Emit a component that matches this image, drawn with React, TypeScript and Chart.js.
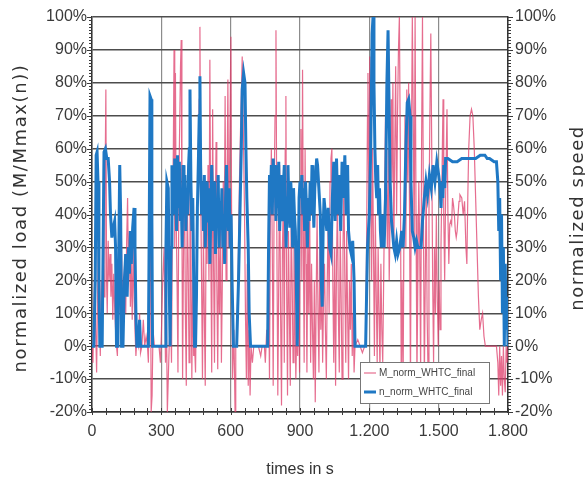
import React, { useEffect, useRef } from 'react';
import { Chart, registerables } from 'chart.js';

Chart.register(...registerables);

// time in s, normalized speed in %
const speedPoints: [number, number][] = [
  [0,0],[8,0],[14,20],[18,58],[22,59],[26,50],[30,20],[34,0],[44,0],[48,30],[52,59],[58,60],[64,57],[70,57],[76,50],[80,40],[86,33],[92,36],[98,38],[102,30],[106,0],[112,0],[116,30],[120,55],[124,40],[128,0],[134,0],[140,20],[146,28],[152,15],[158,30],[162,22],[166,35],[170,25],[176,36],[182,42],[186,30],[190,10],[194,0],[200,0],[206,8],[210,0],[244,0],[248,40],[251,76],[256,75],[259,40],[262,0],[316,0],[320,30],[324,50],[330,48],[334,20],[338,0],
  [342,30],[346,55],[350,50],[354,40],[358,57],[362,45],[366,35],[370,58],[374,42],[378,56],[382,38],[386,47],[390,30],[394,55],[398,45],[402,52],[406,35],[410,48],[414,40],[418,55],[421,60],[424,78],[428,50],[432,35],[436,45],[440,20],[444,0],[448,0],[452,15],[456,42],[460,55],[464,70],[467,82],[470,55],[474,40],[478,50],[482,35],[486,52],[490,30],[494,45],[498,50],[502,38],[506,48],[510,25],[514,40],[518,55],[522,42],[526,35],[530,50],[534,28],[538,45],[542,38],[546,52],[550,30],[554,44],[558,36],[562,48],[566,30],[570,40],[574,25],[578,45],[582,55],[586,42],[590,35],[594,48],[598,30],[602,40],[606,20],[612,0],[626,0],[634,20],[640,40],[646,60],[650,78],[656,83],[662,80],[666,60],[670,45],[676,30],[680,10],[686,0],[760,0],
  [764,30],[768,52],[772,45],[776,55],[780,40],[784,57],[788,48],[792,55],[796,38],[800,50],[804,42],[808,56],[812,35],[816,45],[820,52],[824,38],[828,48],[832,55],[836,40],[840,30],[844,45],[848,55],[852,42],[856,36],[860,50],[864,44],[868,30],[872,48],[876,40],[880,35],[884,20],[888,0],[892,20],[896,45],[900,50],[904,45],[908,52],[912,40],[916,48],[920,35],[924,50],[928,42],[932,30],[936,45],[940,38],[944,50],[948,40],[952,55],[956,45],[960,36],[964,48],[968,52],[972,57],[976,55],[980,50],[984,45],[988,40],[992,20],[996,12],[1000,35],[1004,45],[1010,40],[1016,35],[1022,42],[1028,30],[1034,28],[1040,45],[1046,56],[1052,38],[1058,57],[1064,40],[1070,52],[1076,35],[1082,56],[1088,45],[1094,58],[1100,40],[1106,55],[1110,35],[1116,30],[1122,28],[1128,32],[1134,20],[1138,0],[1184,0],
  [1192,30],[1200,40],[1206,60],[1212,95],[1216,100],[1220,80],[1224,60],[1228,50],[1232,45],[1236,55],[1240,40],[1244,48],[1248,35],[1252,30],[1256,40],[1260,32],[1264,30],[1270,45],[1276,80],[1281,96],[1286,70],[1290,50],[1296,38],[1300,35],[1306,30],[1312,28],[1318,32],[1324,28],[1332,30],[1340,35],[1346,30],[1352,40],[1358,60],[1364,74],[1370,75],[1376,70],[1380,50],[1386,35],[1392,33],[1398,30],[1404,32],[1410,30],[1416,30],[1424,30],[1430,38],[1438,45],[1445,50],[1452,46],[1460,52],[1468,48],[1476,55],[1484,50],[1492,56],[1500,52],[1506,48],[1510,42],[1514,50],[1518,45],[1522,55],[1526,48],[1530,57],[1540,57],[1560,56],[1580,56],[1600,57],[1620,57],[1640,57],[1660,57],[1680,58],[1700,58],[1710,57],[1720,57],[1740,56],[1750,56],[1756,50],[1760,35],[1764,45],[1768,20],[1772,40],[1776,10],[1780,30],[1784,0],[1788,25],[1792,5],[1796,15],[1800,0]
];

// time in s, normalized load in %
const loadPoints: [number, number][] = [
  [0,0],[4,-5],[8,10],[12,25],[16,5],[20,-8],[24,15],[28,30],[32,10],[36,-3],[40,20],[44,8],[48,30],[52,15],[56,45],[60,78],[63,20],[66,10],[70,32],[74,20],[78,28],[82,15],[86,25],[90,8],[94,22],[98,12],[102,5],[106,0],[110,-3],[114,25],[118,30],[122,10],[126,40],[130,20],[134,5],[138,15],[142,28],[146,10],[150,32],[154,45],[158,20],[162,35],[166,12],[170,25],[174,8],[178,30],[182,15],[186,5],[190,-3],[194,2],[200,0],[206,10],[210,-2],[216,0],[222,8],[228,0],[234,3],[240,0],[244,-5],[248,20],[252,50],[256,-20],[260,-15],[264,5],[270,0],[290,0],[296,-5],[300,3],[306,20],[312,30],[318,-5],[322,10],[326,-20],[330,-10],[334,0],[338,5],
  [340,10],[344,-5],[348,40],[352,60],[355,90],[358,30],[361,83],[364,40],[368,20],[372,-8],[376,50],[380,70],[383,85],[386,93],[389,40],[392,-10],[396,30],[400,55],[404,10],[408,-12],[412,45],[416,25],[420,-5],[424,60],[428,30],[432,-10],[436,20],[440,-3],[444,0],[448,-8],[452,15],[456,40],[460,60],[464,75],[467,97],[470,50],[474,20],[478,-10],[482,35],[486,10],[490,-12],[494,40],[498,25],[502,55],[506,20],[510,87],[514,30],[518,-8],[522,72],[526,25],[530,-5],[534,45],[537,62],[540,20],[544,-7],[548,30],[552,10],[556,40],[560,-5],[564,20],[568,50],[572,30],[576,76],[580,20],[584,45],[588,81],[592,30],[596,60],[601,94],[604,40],[608,-10],[614,5],[619,-20],[622,0],
  [626,0],[632,20],[638,50],[644,70],[650,88],[656,60],[660,40],[664,10],[668,-10],[672,25],[676,-12],[680,5],[684,-15],[688,0],[694,-5],[700,0],[720,0],[730,-3],[736,0],[746,0],[750,-5],[756,5],[760,0],
  [764,20],[768,-10],[772,40],[776,60],[780,30],[784,-12],[788,45],[792,70],[796,96],[800,30],[804,-15],[808,20],[812,55],[816,10],[820,-18],[824,30],[828,45],[832,-5],[836,60],[839,76],[842,20],[846,-15],[850,35],[854,10],[858,-12],[862,40],[866,20],[870,-5],[874,30],[878,10],[882,-10],[886,5],[890,-3],[894,20],[898,-8],
  [900,30],[904,66],[908,20],[911,84],[914,40],[918,-5],[922,60],[926,25],[930,-8],[934,35],[938,10],[942,40],[946,-5],[950,25],[954,5],[958,-10],[962,20],[966,-17],[970,15],[974,40],[978,10],[982,-8],[986,30],[990,5],[994,20],[998,-5],[1002,15],[1006,25],[1010,5],[1014,-10],[1018,20],[1022,40],[1026,10],[1030,50],[1034,57],[1038,60],[1042,20],[1046,-5],[1050,30],[1054,-12],[1058,25],[1062,45],[1066,10],[1070,-8],[1074,35],[1078,15],[1082,-10],[1086,30],[1090,50],[1094,20],[1098,-5],[1102,35],[1106,10],[1110,-10],[1114,20],[1118,5],[1122,25],[1126,-3],[1130,10],[1134,-8],[1138,0],[1150,2],[1160,0],[1170,-2],[1180,0],
  [1184,0],[1188,30],[1192,70],[1194,83],[1198,40],[1202,88],[1206,50],[1210,20],[1214,60],[1218,30],[1222,-3],[1226,40],[1230,15],[1234,-5],[1238,30],[1242,10],[1246,-8],[1250,25],[1254,5],[1258,-5],[1262,20],[1266,45],[1270,70],[1274,50],[1278,30],[1282,60],[1286,20],[1290,40],[1294,75],[1298,50],[1302,80],[1306,30],[1310,60],[1314,85],[1318,40],[1322,70],[1326,90],[1330,100],[1334,60],[1338,-10],[1342,20],[1346,-15],[1350,40],[1354,70],[1358,30],[1362,78],[1366,50],[1370,80],[1374,40],[1378,-13],[1382,60],[1386,100],[1390,70],[1394,30],[1398,100],[1402,40],[1406,-10],[1410,20],[1414,50],[1418,30],[1422,-8],[1426,60],[1430,100],[1434,40],[1438,-10],[1442,20],[1446,50],[1450,10],[1454,-8],[1458,40],[1462,70],[1466,95],[1470,60],[1474,20],[1478,-5],[1482,30],[1486,10],[1490,40],[1494,15],[1498,0],[1502,20],[1506,5],
  [1510,30],[1516,60],[1519,75],[1522,40],[1526,20],[1530,45],[1536,72],[1540,40],[1544,25],[1548,37],[1552,38],[1556,37],[1560,45],[1564,43],[1568,40],[1572,35],[1576,33],[1580,35],[1584,40],[1588,44],[1592,46],[1600,45],[1606,40],[1612,44],[1618,30],[1622,25],[1626,45],[1630,60],[1636,70],[1642,72],[1648,70],[1654,60],[1660,45],[1666,30],[1672,15],[1678,5],[1684,8],[1690,10],[1696,3],[1702,0],[1720,0],[1740,0],[1750,0],[1756,-5],[1760,-15],[1764,0],[1768,-12],[1772,-3],[1776,-15],[1780,0],[1784,-10],[1788,-14],[1792,0],[1796,-5],[1800,0]
];

const seriesLabels = ['M_norm_WHTC_final', 'n_norm_WHTC_final'];
const leftTitle = 'normalized load (M/Mmax(n))';
const rightTitle = 'normalized speed';
const bottomTitle = 'times in s';

const LOAD_COLOR = 'rgba(221, 60, 105, 0.75)';
const SPEED_COLOR = '#1f78c4';

const fmtTime = (v: number) =>
  v >= 1000 ? `${Math.floor(v / 1000)}.${String(v % 1000).padStart(3, '0')}` : `${v}`;

const decorations = {
  id: 'decorations',
  afterDraw(chart: any) {
    const { ctx, chartArea, scales } = chart;
    const { left, right, bottom } = chartArea;
    const y = scales.y;
    const x = scales.x;
    ctx.save();
    // minor ticks
    ctx.strokeStyle = '#3a3a3a';
    ctx.lineWidth = 1;
    ctx.beginPath();
    for (let v = -20; v <= 100; v += 1) {
      const py = Math.round(y.getPixelForValue(v)) + 0.5;
      const len = v % 10 === 0 ? 5 : 3;
      ctx.moveTo(left - len, py); ctx.lineTo(left, py);
      ctx.moveTo(right, py); ctx.lineTo(right + len, py);
    }
    for (let t = 0; t <= 1800; t += 60) {
      const px = Math.round(x.getPixelForValue(t)) + 0.5;
      ctx.moveTo(px, bottom - 4); ctx.lineTo(px, bottom + 3);
    }
    ctx.stroke();

    // axis titles
    ctx.fillStyle = '#333';
    ctx.textAlign = 'center';
    ctx.textBaseline = 'alphabetic';
    ctx.font = '18px "DejaVu Sans"';
    (ctx as any).letterSpacing = '1.6px';
    ctx.save();
    ctx.translate(26, 218);
    ctx.rotate(-Math.PI / 2);
    ctx.fillText(leftTitle, 0, 0);
    ctx.restore();
    ctx.save();
    ctx.translate(583, 218);
    ctx.rotate(-Math.PI / 2);
    ctx.fillText(rightTitle, 0, 0);
    ctx.restore();
    (ctx as any).letterSpacing = '0px';
    ctx.font = '16px "Liberation Sans"';
    ctx.fillText(bottomTitle, 300, 474);

    // legend box
    const bx = 360.5, by = 362.5, bw = 129, bh = 41;
    ctx.fillStyle = '#fff';
    ctx.fillRect(bx, by, bw, bh);
    ctx.strokeStyle = '#777';
    ctx.lineWidth = 1;
    ctx.strokeRect(bx, by, bw, bh);
    ctx.lineCap = 'butt';
    ctx.strokeStyle = LOAD_COLOR;
    ctx.lineWidth = 1.2;
    ctx.beginPath(); ctx.moveTo(364, 373); ctx.lineTo(376, 373); ctx.stroke();
    ctx.strokeStyle = SPEED_COLOR;
    ctx.lineWidth = 3;
    ctx.beginPath(); ctx.moveTo(364, 392); ctx.lineTo(376, 392); ctx.stroke();
    ctx.fillStyle = '#444';
    ctx.font = '10px "Liberation Sans"';
    ctx.textAlign = 'left';
    ctx.textBaseline = 'middle';
    ctx.fillText(seriesLabels[0], 379, 373);
    ctx.fillText(seriesLabels[1], 379, 392);
    ctx.restore();
  },
};

export default function App() {
  const ref = useRef<HTMLCanvasElement>(null);
  useEffect(() => {
    document.body.style.margin = '0';
    const tickFont = { family: '"Liberation Sans", Arial, sans-serif', size: 16 };
    const chart = new Chart(ref.current as HTMLCanvasElement, {
      type: 'line',
      data: {
        datasets: [
          {
            label: seriesLabels[0],
            data: loadPoints.map(([t, v]) => ({ x: t, y: v })),
            borderColor: LOAD_COLOR,
            borderWidth: 1.2,
            pointRadius: 0,
            tension: 0,
            order: 1,
          },
          {
            label: seriesLabels[1],
            data: speedPoints.map(([t, v]) => ({ x: t, y: v })),
            borderColor: SPEED_COLOR,
            borderWidth: 3,
            pointRadius: 0,
            tension: 0,
            order: 0,
          },
        ],
      },
      options: {
        animation: false,
        responsive: true,
        maintainAspectRatio: false,
        devicePixelRatio: 1,
        layout: { padding: { top: 17, left: 0, right: 0, bottom: 0 } },
        plugins: { legend: { display: false }, tooltip: { enabled: false } },
        scales: {
          x: {
            type: 'linear',
            min: 0,
            max: 1800,
            ticks: { stepSize: 300, callback: (v: any) => fmtTime(Number(v)), color: '#3a3a3a', font: tickFont, padding: 10, maxRotation: 0, autoSkip: false },
            grid: { color: '#8c8c8c', lineWidth: 1.2, drawTicks: false },
            border: { color: '#333', width: 1.5 },
            afterFit: (s: any) => { s.height = 76; },
          },
          y: {
            position: 'left',
            min: -20,
            max: 100,
            ticks: { stepSize: 10, callback: (v: any) => `${v}%`, color: '#3a3a3a', font: tickFont, padding: 5 },
            grid: { color: '#4d4d4d', lineWidth: 1.4, drawTicks: false },
            border: { color: '#333', width: 1.5 },
            afterFit: (s: any) => { s.width = 92; },
          },
          y2: {
            position: 'right',
            min: -20,
            max: 100,
            ticks: { stepSize: 10, callback: (v: any) => `${v}%`, color: '#3a3a3a', font: tickFont, padding: 7 },
            grid: { drawOnChartArea: false, drawTicks: false },
            border: { color: '#333', width: 1.5 },
            afterFit: (s: any) => { s.width = 77; },
          },
        },
      } as any,
      plugins: [decorations],
    });
    return () => chart.destroy();
  }, []);
  return (
    <div style={{ width: 585, height: 488, position: 'relative', background: '#fff' }}>
      <canvas ref={ref} />
    </div>
  );
}
